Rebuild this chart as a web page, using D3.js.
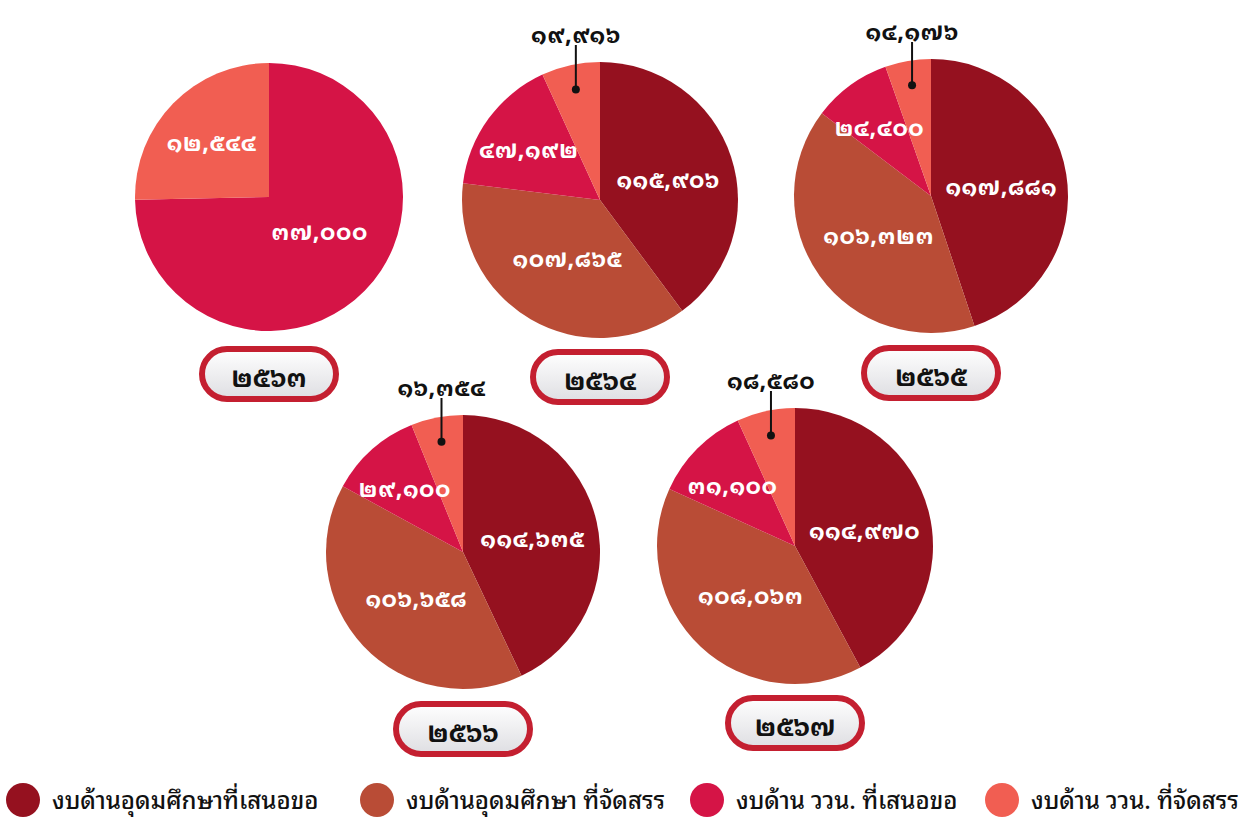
<!DOCTYPE html>
<html><head><meta charset="utf-8">
<script src="https://cdn.jsdelivr.net/npm/d3@7/dist/d3.min.js"></script>
<style>
html,body{margin:0;padding:0;background:#fff;}
svg{display:block;}
text{font-family:"Noto Sans Thai Looped","Loma","Garuda","Kinnari","Norasi","Waree","Umpush","Sawasdee","Noto Sans Thai","Noto Sans",sans-serif;}
</style></head>
<body>
<svg id="chart" width="1254" height="817"></svg>
<script>
// ---- data ----
const years = ["2563", "2564", "2565", "2566", "2567"];
const seriesNames = ["งบด้านอุดมศึกษาที่เสนอขอ", "งบด้านอุดมศึกษา ที่จัดสรร", "งบด้าน ววน. ที่เสนอขอ", "งบด้าน ววน. ที่จัดสรร"];
const higherEdRequested = [0, 115906, 117881, 114635, 114970];
const higherEdAllocated = [0, 107865, 106323, 106658, 108063];
const researchRequested = [37000, 47192, 24400, 29100, 31100];
const researchAllocated = [12544, 19916, 14176, 16354, 18580];
const seriesColors = ["#95111f", "#b94c36", "#d51446", "#f15e52"];

// ---- helpers ----
const thaiDigits = "๐๑๒๓๔๕๖๗๘๙";
const toThai = s => String(s).replace(/[0-9]/g, d => thaiDigits[+d]);
const fmt = d3.format(",");

const svg = d3.select("#chart");
const series = [higherEdRequested, higherEdAllocated, researchRequested, researchAllocated];

// layout of pies (position only)
const layout = [
  {cx: 269, cy: 197, r: 134},
  {cx: 600, cy: 200, r: 138},
  {cx: 931, cy: 196, r: 137},
  {cx: 463, cy: 552, r: 137},
  {cx: 795, cy: 546, r: 138}
];
const labelFactor = [0.52, 0.47, 0.64, 0.6];

const pie = d3.pie().sort(null).value(d => d.value).startAngle(0).endAngle(2 * Math.PI);

// pill gradient
const defs = svg.append("defs");
const grad = defs.append("linearGradient").attr("id", "pillGrad").attr("x1", 0).attr("y1", 0).attr("x2", 0).attr("y2", 1);
grad.append("stop").attr("offset", "0%").attr("stop-color", "#ffffff");
grad.append("stop").attr("offset", "100%").attr("stop-color", "#dedee2");

years.forEach((yr, i) => {
  const L = layout[i];
  const data = series.map((s, k) => ({value: s[i], k}));
  const arcs = pie(data);
  const arc = d3.arc().innerRadius(0).outerRadius(L.r);
  const g = svg.append("g").attr("transform", `translate(${L.cx},${L.cy})`);

  g.selectAll("path.slice").data(arcs.filter(a => a.data.value > 0)).join("path")
    .attr("class", "slice")
    .attr("d", arc)
    .attr("fill", a => seriesColors[a.data.k]);

  arcs.filter(a => a.data.value > 0).forEach(a => {
    const span = a.endAngle - a.startAngle;
    const txt = toThai(fmt(a.data.value));
    const mid = (a.startAngle + a.endAngle) / 2;
    if (a.data.k === 3 && span < 0.7) {
      // external label with leader
      const dr = L.r * 0.82;
      const dx = dr * Math.sin(mid), dy = -dr * Math.cos(mid);
      const ty = -L.r - 30;
      g.append("line").attr("x1", dx).attr("y1", dy).attr("x2", dx).attr("y2", ty + 13)
        .attr("stroke", "#111").attr("stroke-width", 2);
      g.append("circle").attr("cx", dx).attr("cy", dy).attr("r", 4).attr("fill", "#111");
      g.append("text").attr("x", dx).attr("y", ty).attr("text-anchor", "middle")
        .attr("dominant-baseline", "central").attr("font-size", 23).attr("font-weight", 700)
        .attr("letter-spacing", 0.5).attr("fill", "#111").text(txt);
    } else {
      const f = span > Math.PI ? 0.45 : labelFactor[a.data.k];
      const m = span > Math.PI ? mid - 0.2 : mid;
      const rr = L.r * f;
      g.append("text").attr("x", rr * Math.sin(m)).attr("y", -rr * Math.cos(m))
        .attr("text-anchor", "middle").attr("dominant-baseline", "central")
        .attr("font-size", 23).attr("font-weight", 700).attr("letter-spacing", 0.5)
        .attr("fill", "#fff").text(txt);
    }
  });

  // year pill
  const pw = 134, ph = 50;
  const pg = svg.append("g").attr("transform", `translate(${L.cx},${L.cy + 177})`);
  pg.append("rect").attr("x", -pw / 2).attr("y", -ph / 2).attr("width", pw).attr("height", ph)
    .attr("rx", ph / 2).attr("ry", ph / 2)
    .attr("fill", "url(#pillGrad)").attr("stroke", "#c41f30").attr("stroke-width", 6);
  pg.append("text").attr("text-anchor", "middle").attr("dominant-baseline", "central")
    .attr("y", 1).attr("font-size", 26).attr("font-weight", 700).attr("fill", "#111")
    .text(toThai(yr));
});

// legend
const legendX = [23, 377, 707, 1002];
const lg = svg.append("g");
seriesNames.forEach((name, k) => {
  lg.append("circle").attr("cx", legendX[k]).attr("cy", 800).attr("r", 17).attr("fill", seriesColors[k]);
  lg.append("text").attr("x", legendX[k] + 29).attr("y", 798).attr("dominant-baseline", "central")
    .attr("font-size", 24).attr("font-weight", 500).attr("fill", "#111").text(name);
});
</script>
</body></html>
